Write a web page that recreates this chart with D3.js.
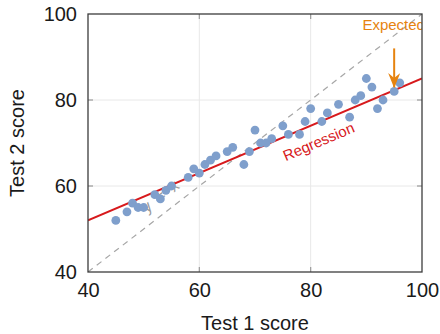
<!DOCTYPE html>
<html>
<head>
<meta charset="utf-8">
<script src="https://cdn.jsdelivr.net/npm/d3@7"></script>
<style>
body { margin:0; background:#fff; }
text { font-family:"Liberation Sans", Arial, sans-serif; }
</style>
</head>
<body>
<div id="chart"></div>
<script>
// scores
var test1 = [45,47,48,49,50,52,53,54,55,58,59,60,61,62,63,65,66,68,69,70,
             71,72,73,75,76,78,79,80,82,83,85,87,88,89,90,91,92,93,95,96];
var test2 = [52,54,56,55,55,58,57,59,60,62,64,63,65,66,67,68,69,65,68,73,
             70,70,71,74,72,72,75,78,75,77,79,76,80,81,85,83,78,80,82,84];
var xTicks = [40,60,80,100];
var yTicks = [40,60,80,100];
var regression = [[40,52],[100,85]];
var identity = [[40,40],[100,100]];
var arrowPts = [[95,92],[95,83]];

var W=440, H=334;
var m = {top:14, right:18, bottom:62, left:88};
var w = W-m.left-m.right, h = H-m.top-m.bottom;

var svg = d3.select('#chart').append('svg').attr('width',W).attr('height',H);
var g = svg.append('g').attr('transform','translate('+m.left+','+m.top+')');

var x = d3.scaleLinear().domain([40,100]).range([0,w]);
var y = d3.scaleLinear().domain([40,100]).range([h,0]);

svg.append('defs').append('clipPath').attr('id','plotClip')
    .append('rect').attr('width',w).attr('height',h);
// arrow head drawn pointing along +x, marker orients it along the path
svg.select('defs').append('marker').attr('id','stealth')
    .attr('viewBox','0 0 15 12').attr('refX',14).attr('refY',6)
    .attr('markerWidth',15).attr('markerHeight',12).attr('markerUnits','userSpaceOnUse')
    .attr('orient','auto')
    .append('path').attr('d','M0,0 L15,6 L0,12 L5,6 Z').style('fill','#e6830f');

// grid
g.append('g').selectAll('line').data(xTicks.slice(1,-1)).enter().append('line')
    .attr('x1',d=>x(d)).attr('x2',d=>x(d)).attr('y1',0).attr('y2',h)
    .style('stroke','#e8e8e8').style('stroke-width',1);
g.append('g').selectAll('line').data(yTicks.slice(1,-1)).enter().append('line')
    .attr('y1',d=>y(d)).attr('y2',d=>y(d)).attr('x1',0).attr('x2',w)
    .style('stroke','#e8e8e8').style('stroke-width',1);

// inner ticks on all 4 sides
var tk = 5;
var ticks = g.append('g').style('stroke','#9a9a9a').style('stroke-width',1.2);
xTicks.slice(1,-1).forEach(function(d){
    ticks.append('line').attr('x1',x(d)).attr('x2',x(d)).attr('y1',h).attr('y2',h-tk);
    ticks.append('line').attr('x1',x(d)).attr('x2',x(d)).attr('y1',0).attr('y2',tk);
});
yTicks.slice(1,-1).forEach(function(d){
    ticks.append('line').attr('y1',y(d)).attr('y2',y(d)).attr('x1',0).attr('x2',tk);
    ticks.append('line').attr('y1',y(d)).attr('y2',y(d)).attr('x1',w).attr('x2',w-tk);
});

var plot = g.append('g').attr('clip-path','url(#plotClip)');
var line = d3.line().x(d=>x(d[0])).y(d=>y(d[1]));

// y = x
plot.append('path').datum(identity).attr('d',line)
    .style('fill','none').style('stroke','#a6a6a6').style('stroke-width',1.2)
    .style('stroke-dasharray','6,5');
var angId = Math.atan2(y(100)-y(40), x(100)-x(40))*180/Math.PI;
plot.append('text').attr('transform','translate('+x(53.6)+','+y(56.6)+') rotate('+angId+')')
    .attr('text-anchor','middle').style('font-size','16px').style('fill','#999')
    .style('word-spacing','4px').text('y = x');

// regression
plot.append('path').datum(regression).attr('d',line)
    .style('fill','none').style('stroke','#d7191c').style('stroke-width',2);

// points
plot.selectAll('circle').data(test1).enter().append('circle')
    .attr('cx',d=>x(d)).attr('cy',(d,i)=>y(test2[i])).attr('r',4.4)
    .style('fill','#7f9fcc');

var angReg = Math.atan2(y(regression[1][1])-y(regression[0][1]), x(100)-x(40))*180/Math.PI;
plot.append('text').attr('transform','translate('+x(81.8)+','+y(69.2)+') rotate('+angReg+')')
    .attr('text-anchor','middle').style('font-size','15px').style('fill','#d7191c')
    .text('Regression');

// expected arrow
plot.append('path').datum(arrowPts).attr('d',line)
    .style('stroke','#e6830f').style('stroke-width',2).attr('marker-end','url(#stealth)');
plot.append('text').attr('x',x(89.3)).attr('y',y(96.3))
    .style('font-size','15px').style('fill','#e6830f').text('Expected');

// frame
g.append('rect').attr('width',w).attr('height',h)
    .style('fill','none').style('stroke','#3c3c3c').style('stroke-width',1.3);

// tick labels
g.append('g').attr('transform','translate(0,'+h+')')
    .call(d3.axisBottom(x).tickValues(xTicks).tickSize(0).tickPadding(11))
    .call(a=>a.select('.domain').remove())
    .selectAll('text').style('font-size','20px').style('fill','#1a1a1a')
    .style('font-family','"Liberation Sans", Arial, sans-serif');
g.append('g')
    .call(d3.axisLeft(y).tickValues(yTicks).tickSize(0).tickPadding(11))
    .call(a=>a.select('.domain').remove())
    .selectAll('text').style('font-size','20px').style('fill','#1a1a1a')
    .style('font-family','"Liberation Sans", Arial, sans-serif');

// axis titles
svg.append('text').attr('x',m.left+w/2).attr('y',330).attr('text-anchor','middle')
    .style('font-size','20px').style('fill','#1a1a1a').text('Test 1 score');
svg.append('text').attr('transform','translate(24,'+(m.top+h/2)+') rotate(-90)')
    .attr('text-anchor','middle').style('font-size','20px').style('fill','#1a1a1a')
    .text('Test 2 score');
</script>
</body>
</html>
